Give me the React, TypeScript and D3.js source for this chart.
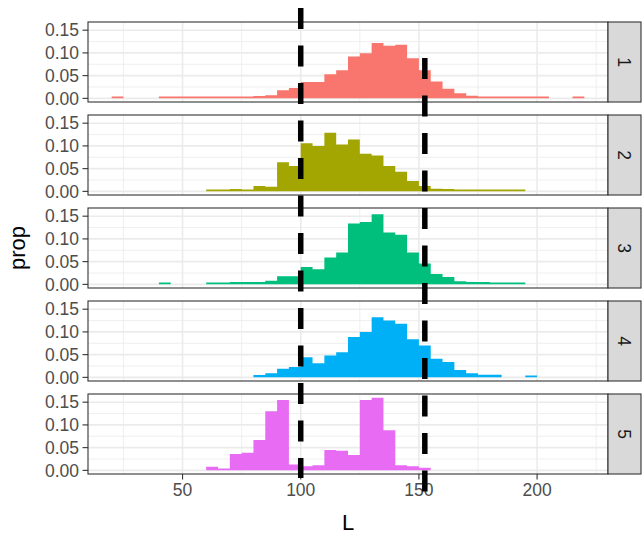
import React from "react";
import * as d3 from "d3";

// Histogram of L by group: proportion per 5-unit bin, one facet per group
const BIN_WIDTH = 5;
const FACETS = ["1", "2", "3", "4", "5"];
const COLORS = ["#F8766D", "#A3A500", "#00BF7D", "#00B0F6", "#E76BF3"];

const START_1 = 20;
const PROP_1 = [
  0.004, 0, 0, 0,
  0.004, 0.004, 0.004, 0.004, 0.004, 0.004, 0.004, 0.004,
  0.005, 0.007, 0.018, 0.023, 0.036, 0.036, 0.053, 0.062, 0.092, 0.099,
  0.122, 0.116, 0.118, 0.088, 0.062, 0.037, 0.021, 0.011, 0.006,
  0.004, 0.004, 0.004, 0.004, 0.004, 0.004, 0, 0, 0.004,
];
const START_2 = 60;
const PROP_2 = [
  0.004, 0.004, 0.005, 0.004, 0.012, 0.010, 0.064, 0.056, 0.106, 0.100,
  0.129, 0.103, 0.114, 0.083, 0.079, 0.056, 0.043, 0.023, 0.012, 0.006,
  0.005, 0.004, 0.004, 0.004, 0.004, 0.004, 0.004,
];
const START_3 = 40;
const PROP_3 = [
  0.004, 0, 0, 0, 0.004, 0.004, 0.005, 0.005, 0.005, 0.008,
  0.018, 0.018, 0.038, 0.033, 0.059, 0.070, 0.134, 0.137, 0.154, 0.114,
  0.109, 0.070, 0.046, 0.023, 0.016, 0.007, 0.005, 0.005, 0.004, 0.004, 0.004,
];
const START_4 = 80;
const PROP_4 = [
  0.005, 0.009, 0.019, 0.023, 0.044, 0.031, 0.048, 0.055, 0.089, 0.100,
  0.132, 0.125, 0.118, 0.084, 0.070, 0.041, 0.034, 0.016, 0.009, 0.006,
  0.006, 0, 0, 0.004,
];
const START_5 = 60;
const PROP_5 = [
  0.008, 0.004, 0.036, 0.039, 0.067, 0.130, 0.155, 0.013, 0.009, 0.011,
  0.045, 0.043, 0.034, 0.155, 0.160, 0.088, 0.011, 0.009, 0.006,
];

const STARTS = [START_1, START_2, START_3, START_4, START_5];
const PROPS = [PROP_1, PROP_2, PROP_3, PROP_4, PROP_5];

const X_RANGE_DATA = [20, 220];
const X_TICKS = [50, 100, 150, 200];
const X_MINOR = [25, 75, 125, 175, 225];
const Y_TICKS = [0, 0.05, 0.1, 0.15];
const Y_MINOR = [0.025, 0.075, 0.125];

// Reference lines in L units, drawn as a dashed overlay
const VLINES = [100, 152.5];
const VLINE_EXTENT = [
  [8, 478],
  [58, 497],
];

const W = 642;
const H = 534;
const PANEL_LEFT = 88;
const PANEL_RIGHT = 608;
const PANEL_TOP = 22;
const PANEL_H = 80;
const PANEL_GAP = 13;
const STRIP_W = 33;
const FONT = "'Liberation Sans', Arial, Helvetica, sans-serif";

export default function App() {
  const span = X_RANGE_DATA[1] - X_RANGE_DATA[0];
  const x = d3
    .scaleLinear()
    .domain([X_RANGE_DATA[0] - 0.05 * span, X_RANGE_DATA[1] + 0.05 * span])
    .range([PANEL_LEFT, PANEL_RIGHT]);

  const ymax = d3.max(PROPS.flat()) as number;

  const panels = FACETS.map((f, i) => {
    const top = PANEL_TOP + i * (PANEL_H + PANEL_GAP);
    const y = d3
      .scaleLinear()
      .domain([-0.05 * ymax, 1.05 * ymax])
      .range([top + PANEL_H, top]);
    // step points: left edge of each bin, plus the right edge of the last bin
    const pts = PROPS[i].map((p, k) => ({ l: STARTS[i] + k * BIN_WIDTH, p }));
    pts.push({ l: STARTS[i] + PROPS[i].length * BIN_WIDTH, p: PROPS[i][PROPS[i].length - 1] });
    const area = d3
      .area<{ l: number; p: number }>()
      .x((d) => x(d.l))
      .y0(y(0))
      .y1((d) => y(d.p))
      .curve(d3.curveStepAfter);
    return { f, i, top, y, path: area(pts) as string };
  });

  const lastBottom = PANEL_TOP + 4 * (PANEL_H + PANEL_GAP) + PANEL_H;

  return (
    <div style={{ position: "fixed", left: 0, top: 0 }}>
      <svg width={W} height={H} style={{ display: "block", background: "#fff" }}>
        <defs>
          <filter id="soft" x="-300%" y="-10%" width="700%" height="120%">
            <feGaussianBlur stdDeviation="2.5" />
          </filter>
        </defs>
        {panels.map(({ f, i, top, y, path }) => (
          <g key={f}>
            <rect x={PANEL_LEFT} y={top} width={PANEL_RIGHT - PANEL_LEFT} height={PANEL_H} fill="#fff" />
            {Y_MINOR.map((v) => (
              <line key={"ym" + v} x1={PANEL_LEFT} x2={PANEL_RIGHT} y1={y(v)} y2={y(v)} stroke="#EBEBEB" strokeWidth={0.8} />
            ))}
            {X_MINOR.map((v) => (
              <line key={"xm" + v} x1={x(v)} x2={x(v)} y1={top} y2={top + PANEL_H} stroke="#EBEBEB" strokeWidth={0.8} />
            ))}
            {Y_TICKS.map((v) => (
              <line key={"yM" + v} x1={PANEL_LEFT} x2={PANEL_RIGHT} y1={y(v)} y2={y(v)} stroke="#EBEBEB" strokeWidth={1.6} />
            ))}
            {X_TICKS.map((v) => (
              <line key={"xM" + v} x1={x(v)} x2={x(v)} y1={top} y2={top + PANEL_H} stroke="#EBEBEB" strokeWidth={1.6} />
            ))}
            <path d={path} fill={COLORS[i]} />
            <rect
              x={PANEL_LEFT}
              y={top}
              width={PANEL_RIGHT - PANEL_LEFT}
              height={PANEL_H}
              fill="none"
              stroke="#333333"
              strokeWidth={1.1}
            />
            {Y_TICKS.map((v) => (
              <g key={"yt" + v}>
                <line x1={PANEL_LEFT - 5.5} x2={PANEL_LEFT} y1={y(v)} y2={y(v)} stroke="#333333" strokeWidth={1.1} />
                <text
                  x={PANEL_LEFT - 9}
                  y={y(v)}
                  dy="0.36em"
                  textAnchor="end"
                  fontFamily={FONT}
                  fontSize={17.5}
                  fill="#4D4D4D"
                >
                  {d3.format(".2f")(v)}
                </text>
              </g>
            ))}
            <rect
              x={PANEL_RIGHT}
              y={top}
              width={STRIP_W}
              height={PANEL_H}
              fill="#D9D9D9"
              stroke="#333333"
              strokeWidth={1.1}
            />
            <text
              transform={`translate(${PANEL_RIGHT + STRIP_W / 2},${top + PANEL_H / 2}) rotate(90)`}
              textAnchor="middle"
              dy="0.36em"
              fontFamily={FONT}
              fontSize={17.5}
              fill="#1A1A1A"
            >
              {f}
            </text>
          </g>
        ))}

        {X_TICKS.map((v) => (
          <g key={"xt" + v}>
            <line x1={x(v)} x2={x(v)} y1={lastBottom} y2={lastBottom + 5.5} stroke="#333333" strokeWidth={1.1} />
            <text
              x={x(v)}
              y={lastBottom + 9}
              dy="0.75em"
              textAnchor="middle"
              fontFamily={FONT}
              fontSize={17.5}
              fill="#4D4D4D"
            >
              {v}
            </text>
          </g>
        ))}

        <text
          x={(PANEL_LEFT + PANEL_RIGHT) / 2}
          y={530}
          textAnchor="middle"
          fontFamily={FONT}
          fontSize={22}
          fill="#000"
        >
          L
        </text>
        <text
          transform={`translate(25,${(PANEL_TOP + lastBottom) / 2}) rotate(-90)`}
          textAnchor="middle"
          fontFamily={FONT}
          fontSize={22}
          fill="#000"
        >
          prop
        </text>

        {VLINES.map((v, k) => (
          <g key={"v" + v}>
            <line
              x1={x(v)}
              x2={x(v)}
              y1={VLINE_EXTENT[k][0]}
              y2={VLINE_EXTENT[k][1]}
              stroke="#666"
              strokeOpacity={0.75}
              strokeWidth={6}
              filter="url(#soft)"
            />
            <line
              x1={x(v)}
              x2={x(v)}
              y1={VLINE_EXTENT[k][0]}
              y2={VLINE_EXTENT[k][1]}
              stroke="#000"
              strokeWidth={5.5}
              strokeDasharray="21 16.5"
            />
          </g>
        ))}
      </svg>
    </div>
  );
}
